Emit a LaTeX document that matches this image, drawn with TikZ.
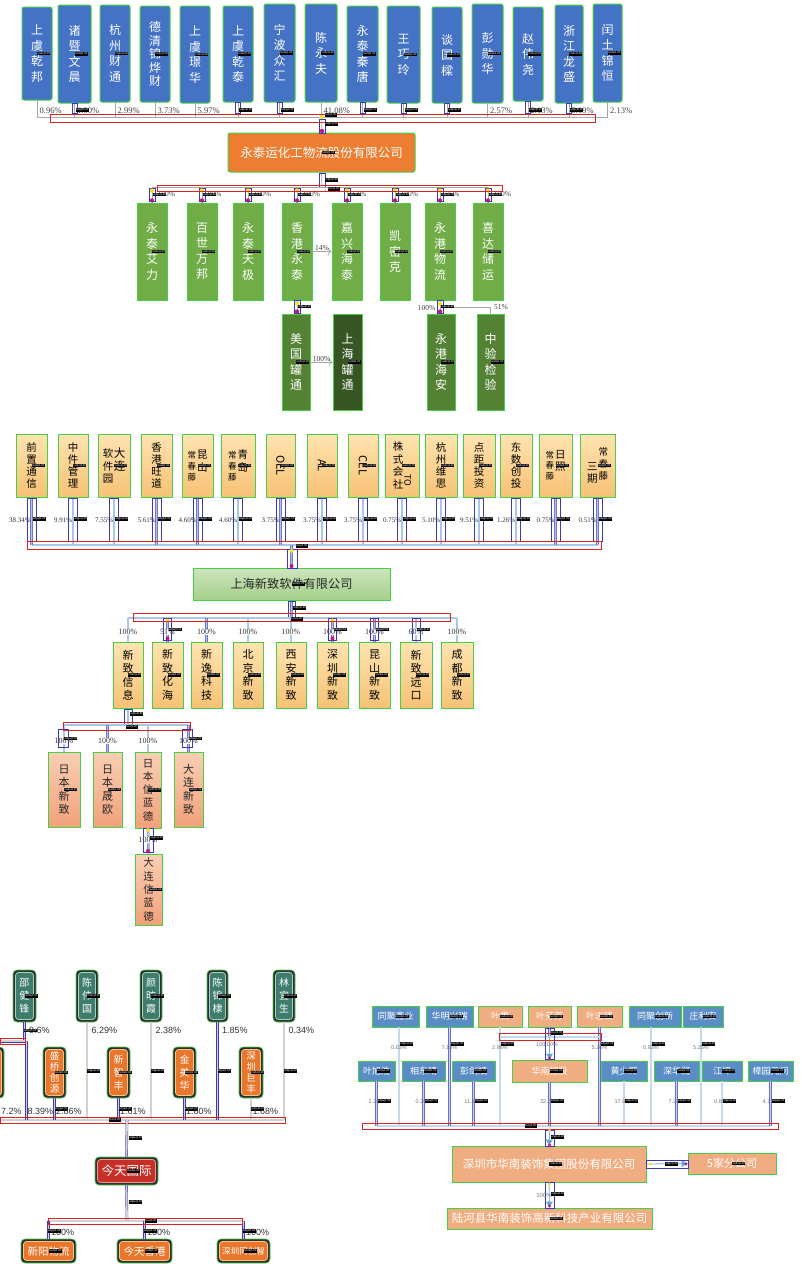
\documentclass[tikz,border=0pt]{standalone}
\usepackage{fontspec}
\usepackage{graphicx}
\setmainfont{Liberation Serif}
\newfontfamily\cjk{Noto Sans CJK SC}
\newfontfamily\arial{Liberation Sans}
\usetikzlibrary{arrows.meta,calc}
\definecolor{blueA}{HTML}{4472C4}
\definecolor{annG}{HTML}{45D045}
\definecolor{annR}{HTML}{E02020}
\definecolor{annB}{HTML}{3A3AB8}
\definecolor{orgA}{HTML}{ED7D31}
\definecolor{grnA}{HTML}{70AD47}
\definecolor{grnB}{HTML}{548235}
\definecolor{grnC}{HTML}{375623}
\definecolor{yelT}{HTML}{FFE3B0}
\definecolor{yelB}{HTML}{F6C275}
\definecolor{salT}{HTML}{F9CFB4}
\definecolor{salB}{HTML}{F2A17A}
\definecolor{lgT}{HTML}{CDE5BE}
\definecolor{lgB}{HTML}{A5CF88}
\definecolor{darkO}{HTML}{2E2E2E}
\definecolor{tealI}{HTML}{3E7D6C}
\definecolor{tealL}{HTML}{A8D0C3}
\definecolor{orgI}{HTML}{E8772C}
\definecolor{orgL}{HTML}{F7C48F}
\definecolor{redI}{HTML}{C62F28}
\definecolor{redL}{HTML}{EC9A90}
\definecolor{blueD}{HTML}{5A8DC6}
\definecolor{salD}{HTML}{F0AD82}
\definecolor{lblue}{HTML}{A8C8E8}
\definecolor{arrB}{HTML}{5B9BD5}
\definecolor{magD}{HTML}{C0188C}
\definecolor{yelD}{HTML}{F5E020}

\newcommand\BX[7]{%
  \node[#1,minimum width={(#5-(#3))*1pt},minimum height={(#6-(#4))*1pt}] (#2) at ({((#3)+(#5))/2},{((#4)+(#6))/2}) {#7};
  \node[ntag] (#2t) at (#2.center) {node|1.00};}
\newcommand\PBB[7]{%
  \node[darkouter,minimum width={(#4-(#2))*1pt},minimum height={(#5-(#3))*1pt}] (#1) at ({((#2)+(#4))/2},{((#3)+(#5))/2}) {};
  \node[#6,minimum width={(#4-(#2)-5)*1pt},minimum height={(#5-(#3)-5)*1pt}] (#1i) at (#1.center) {#7};}
\newcommand\PB[7]{%
  \PBB{#1}{#2}{#3}{#4}{#5}{#6}{#7}%
  \node[ntag] (#1t) at (#1.center) {node|1.00};}

\begin{document}
\begin{tikzpicture}[x=1pt,y=-1pt,
  base/.style={rectangle,inner sep=0pt,align=center,draw=annG,line width=1pt},
  box1/.style={base,rounded corners=2pt,fill=blueA,text=white,font=\cjk\fontsize{12}{15.5}\selectfont},
  orgbox/.style={base,rounded corners=2pt,fill=orgA,text=white,font=\cjk\fontsize{12.5}{14}\selectfont},
  gbox/.style={base,fill=grnA,text=white,font=\cjk\fontsize{12}{15.5}\selectfont},
  gboxB/.style={gbox,fill=grnB},
  gboxC/.style={gbox,fill=grnC},
  ybox/.style={base,top color=yelT,bottom color=yelB,text=black,font=\cjk\fontsize{10.5}{11.8}\selectfont},
  lgbox/.style={base,top color=lgT,bottom color=lgB,text=black!85,font=\cjk\fontsize{12.2}{13}\selectfont},
  sbox/.style={base,top color=salT,bottom color=salB,text=black!85,font=\cjk\fontsize{11}{13.5}\selectfont},
  darkouter/.style={rectangle,fill=darkO,rounded corners=4pt,draw=annG,line width=0.6pt,inner sep=0pt},
  tealin/.style={rectangle,fill=tealI,draw=tealL,line width=0.8pt,rounded corners=3pt,inner sep=0pt,align=center,text=white,font=\cjk\fontsize{10}{13}\selectfont},
  orgin/.style={tealin,fill=orgI,draw=orgL,font=\cjk\fontsize{9.5}{11}\selectfont},
  redin/.style={tealin,fill=redI,draw=redL,font=\cjk\fontsize{12.5}{13}\selectfont},
  bbox/.style={base,line width=0.8pt,fill=blueD,text=white,font=\cjk\fontsize{9}{10}\selectfont},
  sdbox/.style={bbox,fill=salD},
  ntag/.style={fill=black,text=white,font=\arial\fontsize{2.8}{3}\selectfont,inner sep=0.4pt,anchor=west},
  etag/.style={fill=black,text=white,font=\arial\fontsize{2.8}{3}\selectfont,inner sep=0.4pt,anchor=west},
  gline/.style={draw=black!35,line width=0.7pt},
  garrow/.style={gline,-{To[length=4pt]}},
  lbconn/.style={draw=annB!70,line width=0.4pt,double=lblue,double distance=1.6pt},
  dconn/.style={draw=annB,line width=0.4pt,double=black!18,double distance=1.8pt},
  sconn/.style={draw=annB!75,line width=0.4pt,double=lblue!70!white,double distance=1.6pt},
  sarrow/.style={draw=arrB!80,line width=0.8pt,-{Triangle[length=6pt,width=7pt,fill=arrB]}},
  redbox/.style={draw=annR,line width=0.9pt},
  aframe/.style={draw=annB,line width=0.6pt},
  pc1/.style={font=\fontsize{8.5}{9}\selectfont,text=black!75,inner sep=0.5pt},
  pc2/.style={font=\fontsize{7}{8}\selectfont,text=black!80,inner sep=0.5pt},
  pc2w/.style={pc2,fill=white},
  pc3/.style={font=\arial\fontsize{9}{10}\selectfont,text=black!80,inner sep=0.5pt},
  pc4/.style={font=\arial\fontsize{5.5}{6}\selectfont,text=black!55,inner sep=0.3pt}
]
\useasboundingbox (0,0) rectangle (801,1264);
\fill[white] (0,0) rectangle (801,1264);

%================ Section 1 ================
\BX{box1}{a1}{22}{7}{52}{100}{上\\虞\\乾\\邦}
\BX{box1}{a2}{58}{5}{91}{103}{诸\\暨\\文\\晨}
\BX{box1}{a3}{100}{5}{130}{102}{杭\\州\\财\\通}
\BX{box1,font=\cjk\fontsize{12}{13.5}\selectfont}{a4}{140}{6}{170}{102}{德\\清\\锦\\烨\\财}
\BX{box1}{a5}{180}{6}{210}{103}{上\\虞\\璟\\华}
\BX{box1}{a6}{223}{6}{253}{102}{上\\虞\\乾\\泰}
\BX{box1}{a7}{264}{4}{295}{102}{宁\\波\\众\\汇}
\BX{box1}{a8}{305}{4}{337}{102}{陈\\永\\夫}
\BX{box1}{a9}{347}{6}{378}{102}{永\\泰\\秦\\唐}
\BX{box1}{a10}{387}{6}{420}{103}{王\\巧\\玲}
\BX{box1}{a11}{432}{7}{462}{103}{谈\\国\\樑}
\BX{box1}{a12}{472}{4}{503}{103}{彭\\勋\\华}
\BX{box1}{a13}{513}{7}{543}{101}{赵\\伟\\尧}
\BX{box1}{a14}{555}{5}{583}{103}{浙\\江\\龙\\盛}
\BX{box1}{a15}{593}{4}{622}{102}{闰\\土\\锦\\恒}

\coordinate (b1) at (322,117);
\coordinate (p1y) at (0,111);
\foreach \n in {a1,a2,a3,a4,a5,a6,a7,a8,a9,a10,a11,a12,a13,a14,a15}
  \draw[gline] (\n.south) -- (\n.south |- b1);
\draw[gline] (a1.south |- b1) -- (a15.south |- b1);
\foreach \n/\t in {a1/0.96\%,a2/1.00\%,a3/2.99\%,a4/3.73\%,a5/5.97\%,a8/41.08\%,a12/2.57\%,a13/2.13\%,a14/3.19\%,a15/2.13\%}
  \node[pc1,anchor=west] (\n p) at ($(\n.south |- p1y)+(2,0)$) {\t};
\foreach \n/\t in {a2/0.20,a6/0.30,a7/0.33,a9/0.17,a10/0.08,a11/0.11,a13/0.12,a14/0.02}{
  \draw[aframe] ($(\n.south)+(-2.5,0)$) rectangle ($(\n.south |- b1)+(2.5,-4)$);
  \node[etag] (\n e) at ($(\n.south |- p1y)+(1,-1)$) {edge|\t};}
\draw[redbox] (50,114) rectangle (595,122);

\BX{orgbox}{yt}{228}{133}{415}{172}{永泰运化工物流股份有限公司}
\draw[gline] (b1) -- (yt.north);
\draw[aframe] (319,119) rectangle (325,133);
\fill[yelD] (b1) circle (2.2);
\fill[magD] (322,131) circle (2.2);
\node[etag] (b1t) at (325,115) {bus|1.00};
\node[etag] (b1e) at (325,124) {edge|1.00};

\BX{gbox}{c1}{137}{203}{167}{300}{永\\泰\\艾\\力}
\BX{gbox}{c2}{187}{203}{217}{300}{百\\世\\万\\邦}
\BX{gbox}{c3}{233}{203}{263}{300}{永\\泰\\天\\极}
\BX{gbox}{c4}{282}{203}{312}{300}{香\\港\\永\\泰}
\BX{gbox}{c5}{332}{203}{362}{300}{嘉\\兴\\海\\泰}
\BX{gbox}{c6}{380}{203}{410}{300}{凯\\密\\克}
\BX{gbox}{c7}{425}{203}{455}{300}{永\\港\\物\\流}
\BX{gbox}{c8}{473}{203}{503}{300}{喜\\达\\储\\运}
\coordinate (b2) at (322,187);
\draw[gline] (yt.south) -- (b2);
\draw[aframe] (319,173) rectangle (325,187);
\node[etag] (b2e) at (325,180) {edge|0.90};
\draw[gline] (c1.north |- b2) -- (c8.north |- b2);
\foreach \n/\t/\v in {c1/100\%/1.00,c2/80\%/0.80,c3/100\%/1.00,c4/100\%/1.00,c5/51\%/0.29,c6/100\%/1.00,c7/75\%/0.75,c8/100\%/1.00}{
  \draw[gline] (\n.north |- b2) -- (\n.north);
  \node[pc1,anchor=west,font=\fontsize{7.5}{8}\selectfont] (\n p) at ($(\n.north)+(5,-8)$) {\t};
  \draw[aframe] ($(\n.north)+(-3,-14)$) rectangle ($(\n.north)+(3,-1)$);
  \fill[yelD] ($(\n.north)+(0,-12)$) circle (2.2);
  \fill[magD] ($(\n.north)+(0,-2)$) circle (2.2);
  \node[etag] (\n e) at ($(\n.north)+(1,-8)$) {edge|\v};}
\draw[redbox] (157,185) rectangle (502,191);
\node[etag] (b2t) at (328,189) {bus|1.00};

\BX{gboxB}{d1}{282}{314}{310}{410}{美\\国\\罐\\通}
\BX{gboxC}{d2}{333}{314}{362}{410}{上\\海\\罐\\通}
\BX{gboxB}{d3}{427}{314}{455}{410}{永\\港\\海\\安}
\BX{gboxB}{d4}{477}{314}{504}{410}{中\\验\\检\\验}
\draw[garrow] (c4.east) -- (c5.west) node[midway,above,pc1,font=\fontsize{7.5}{8}\selectfont] (c45) {14\%};
\draw[garrow] (d1.east) -- (d2.west) node[midway,above,pc1,font=\fontsize{7.5}{8}\selectfont] (d12) {100\%};
\draw[gline] (c4.south) -- (c4.south |- d1.north);
\draw[aframe] ($(c4.south)+(-3,0)$) rectangle ($(c4.south |- d1.north)+(3,0)$);
\fill[yelD] ($(c4.south)+(0,3)$) circle (2.2);
\fill[magD] ($(c4.south |- d1.north)+(0,-2)$) circle (2.2);
\node[etag] (c4e) at ($(c4.south)+(1,6)$) {edge|0.30};
\draw[gline] (c7.south) -- (c7.south |- d3.north);
\draw[gline] ($(c7.south)+(0,7)$) -| (d4.north);
\node[pc1,anchor=east,font=\fontsize{7.5}{8}\selectfont] (d3p) at ($(c7.south)+(-4,8)$) {100\%};
\node[pc1,anchor=west,font=\fontsize{7.5}{8}\selectfont] (d4p) at ($(d4.north)+(3,-6)$) {51\%};
\draw[aframe] ($(c7.south)+(-3,0)$) rectangle ($(c7.south |- d3.north)+(3,0)$);
\fill[yelD] ($(c7.south)+(0,3)$) circle (2.2);
\fill[magD] ($(c7.south |- d3.north)+(0,-2)$) circle (2.2);
\node[etag] (c7e) at ($(c7.south)+(1,6)$) {edge|0.88};

%================ Section 2 ================
\BX{ybox}{p1}{16}{434}{47}{497}{前\\置\\通\\信}
\BX{ybox}{p2}{58}{434}{88}{497}{中\\件\\管\\理}
\BX{ybox}{p3}{98}{434}{130}{497}{\raisebox{-4pt}{\shortstack{软\\件\\园}}\hspace{0.5pt}\raisebox{8pt}{\fontsize{11.5}{12}\selectfont\shortstack{大\\连}}}
\BX{ybox}{p4}{141}{434}{172}{497}{香\\港\\旺\\道}
\BX{ybox}{p5}{182}{434}{213}{497}{{\fontsize{8.5}{9}\selectfont\shortstack{常\\春\\藤}}\hspace{1pt}\raisebox{9pt}{\shortstack{昆\\山}}}
\BX{ybox}{p6}{221}{434}{255}{497}{{\fontsize{8.5}{9}\selectfont\shortstack{常\\春\\藤}}\hspace{1pt}\raisebox{9pt}{\shortstack{青\\岛}}}
\BX{ybox}{p7}{266}{434}{295}{497}{\fontsize{11}{11}\selectfont\rotatebox{-90}{OEL}}
\BX{ybox}{p8}{307}{434}{337}{497}{\fontsize{11}{11}\selectfont\rotatebox{-90}{AL}}
\BX{ybox}{p9}{348}{434}{378}{497}{\fontsize{11}{11}\selectfont\rotatebox{-90}{CEL}}
\BX{ybox}{p10}{385}{434}{419}{497}{\shortstack{株\\式\\会\\社}\hspace{1pt}\raisebox{14pt}{\fontsize{9}{9}\selectfont\rotatebox{-90}{TO}}}
\BX{ybox}{p11}{425}{434}{457}{497}{杭\\州\\维\\思}
\BX{ybox}{p12}{463}{434}{495}{497}{点\\距\\投\\资}
\BX{ybox}{p13}{500}{434}{532}{497}{东\\数\\创\\投}
\BX{ybox}{p14}{539}{434}{572}{497}{{\fontsize{8.5}{9}\selectfont\shortstack{常\\春\\藤}}\hspace{1pt}\raisebox{9pt}{\shortstack{日\\照}}}
\BX{ybox}{p15}{580}{434}{615}{497}{\raisebox{-3pt}{\shortstack{三\\期}}\hspace{1pt}{\fontsize{9.5}{10}\selectfont\shortstack{常\\春\\藤}}}

\coordinate (b5) at (291.5,545);
\coordinate (p5y) at (0,520);
\draw[lbconn] (p1.south |- b5) -- (p15.south |- b5);
\foreach \n/\t in {p1/38.34\%,p2/9.91\%,p3/7.55\%,p4/5.61\%,p5/4.60\%,p6/4.60\%,p7/3.75\%,p8/3.75\%,p9/3.75\%,p10/0.75\%,p11/5.10\%,p12/9.51\%,p13/1.26\%,p14/0.75\%,p15/0.51\%}{
  \draw[lbconn] (\n.south) -- (\n.south |- b5);
  \draw[aframe] ($(\n.south)+(-4.5,1)$) rectangle ($(\n.south |- b5)+(4.5,-4)$);
  \node[pc2,anchor=east] (\n p) at ($(\n.south |- p5y)+(0,0)$) {\t};
  \node[etag] (\n e) at ($(\n.south |- p5y)+(1,-1)$) {edge|1.00};}
\draw[redbox] (27,541) rectangle (601,549);
\node[etag] (b5t) at (296,546) {bus|1.00};

\BX{lgbox}{q}{193}{568}{390}{600}{上海新致软件有限公司}
\draw[lbconn] (b5) -- (q.north);
\draw[aframe] (287,549) rectangle (297,568);
\fill[yelD] (291.5,551) circle (2);
\fill[magD] (291.5,566) circle (2);

\BX{ybox,font=\cjk\fontsize{11}{13.5}\selectfont}{r1}{113}{642}{143}{708}{新\\致\\信\\息}
\BX{ybox,font=\cjk\fontsize{11}{13.5}\selectfont}{r2}{152}{642}{183}{708}{新\\致\\化\\海}
\BX{ybox,font=\cjk\fontsize{11}{13.5}\selectfont}{r3}{191}{642}{222}{708}{新\\逸\\科\\技}
\BX{ybox,font=\cjk\fontsize{11}{13.5}\selectfont}{r4}{233}{642}{263}{708}{北\\京\\新\\致}
\BX{ybox,font=\cjk\fontsize{11}{13.5}\selectfont}{r5}{276}{642}{306}{708}{西\\安\\新\\致}
\BX{ybox,font=\cjk\fontsize{11}{13.5}\selectfont}{r6}{317}{642}{348}{708}{深\\圳\\新\\致}
\BX{ybox,font=\cjk\fontsize{11}{13.5}\selectfont}{r7}{359}{642}{390}{708}{昆\\山\\新\\致}
\BX{ybox,font=\cjk\fontsize{11}{13.5}\selectfont}{r8}{400}{642}{432}{708}{新\\致\\远\\口}
\BX{ybox,font=\cjk\fontsize{11}{13.5}\selectfont}{r9}{441}{642}{473}{708}{成\\都\\新\\致}
\coordinate (b6) at (291.5,618);
\coordinate (p6y) at (0,632);
\draw[lbconn] (q.south) -- (b6);
\draw[aframe] (288,601) rectangle (295,618);
\node[etag] (b6e) at (293,608) {edge|0.90};
\draw[lbconn] (r1.north |- b6) -- (r9.north |- b6);
\foreach \n/\t in {r1/100\%,r2/51\%,r3/100\%,r4/100\%,r5/100\%,r6/100\%,r7/100\%,r8/60\%,r9/100\%}{
  \draw[lbconn] (\n.north |- b6) -- (\n.north);
  \node[pc2w,font=\fontsize{8}{9}\selectfont] (\n p) at (\n.north |- p6y) {\t};}
\foreach \n in {r2,r6,r7,r8}{
  \draw[aframe] ($(\n.north)+(-4,-23)$) rectangle ($(\n.north)+(4,-1)$);
  \node[etag] (\n e) at ($(\n.north)+(1,-12)$) {edge|0.51};}
\fill[yelD] ($(r2.north)+(0,-21)$) circle (2);
\fill[magD] ($(r2.north)+(0,-3)$) circle (2);
\fill[yelD] ($(r6.north)+(0,-21)$) circle (2);
\fill[magD] ($(r6.north)+(0,-3)$) circle (2);
\draw[redbox] (133,613) rectangle (450,621);
\node[etag] (b6t) at (291,619) {bus|1.00};

\BX{sbox}{s1}{48}{752}{80}{827}{日\\本\\新\\致}
\BX{sbox}{s2}{93}{752}{122}{827}{日\\本\\晟\\欧}
\BX{sbox,font=\cjk\fontsize{10.5}{13.3}\selectfont}{s3}{135}{752}{161}{828}{日\\本\\信\\蓝\\德}
\BX{sbox}{s4}{174}{752}{203}{827}{大\\连\\新\\致}
\BX{sbox,font=\cjk\fontsize{10.5}{13.3}\selectfont}{s5}{135}{854}{162}{925}{大\\连\\信\\蓝\\德}
\coordinate (b7) at (128,725);
\coordinate (p7y) at (0,741);
\draw[lbconn] (r1.south) -- (b7);
\draw[aframe] (124,709) rectangle (132,725);
\node[etag] (b7e) at (130,714) {edge|0.88};
\draw[lbconn] (s1.north |- b7) -- (s4.north |- b7);
\foreach \n in {s1,s2,s3,s4}{
  \draw[lbconn] (\n.north |- b7) -- (\n.north);
  \node[pc2w,font=\fontsize{8}{9}\selectfont] (\n p) at (\n.north |- p7y) {100\%};}
\foreach \n in {s1,s4}{
  \draw[aframe] ($(\n.north)+(-6,-22)$) rectangle ($(\n.north)+(4,-4)$);
  \node[etag] (\n e) at ($(\n.north)+(0,-13)$) {edge|1.00};}
\draw[redbox] (63,722) rectangle (190,730);
\node[etag] (b7t) at (126,727) {bus|1.00};
\draw[lbconn] (s3.south) -- (s5.north);
\node[pc2w,font=\fontsize{8}{9}\selectfont] (s5p) at (148,840) {100\%};
\draw[aframe] (143,828) rectangle (153,852);
\fill[yelD] (148,830) circle (2);
\fill[magD] (148,851) circle (2);
\node[etag] (s5e) at (150,838) {edge|1.00};

%================ Section 3 ================
\PB{t1}{13}{970}{36}{1022}{tealin}{邵\\健\\锋}
\PB{t2}{76}{970}{98}{1022}{tealin}{陈\\伟\\国}
\PB{t3}{140}{970}{162}{1022}{tealin}{颜\\昉\\霞}
\PB{t4}{207}{970}{228}{1022}{tealin}{陈\\锦\\棣}
\PB{t5}{273}{970}{295}{1022}{tealin}{林\\宜\\生}
\PBB{u0}{-25}{1047}{4}{1098}{orgin}{}
\PB{u1}{43}{1047}{66}{1098}{orgin,font=\cjk\fontsize{9.5}{11.2}\selectfont}{盛\\桥\\创\\源}
\PB{u2}{107}{1047}{130}{1098}{orgin,font=\cjk\fontsize{10}{13}\selectfont}{新\\智\\丰}
\PB{u3}{173}{1047}{196}{1098}{orgin,font=\cjk\fontsize{10}{13}\selectfont}{金\\美\\华}
\PB{u4}{239}{1047}{263}{1098}{orgin,font=\cjk\fontsize{9.5}{11.2}\selectfont}{深\\圳\\巨\\丰}

\coordinate (b3) at (127,1120);
\coordinate (p3a) at (0,1030);
\coordinate (p3b) at (0,1111);
\draw[dconn] (-12,1120) -- (t5.south |- b3);
\foreach \n in {t2,t3,t4,t5,u1,u2,u3,u4}{
  \draw[dconn] (\n.south) -- (\n.south |- b3);
  \node[etag] (\n e) at ($(\n.south)!0.5!(\n.south |- b3)$) {edge|1.00};}
\draw[dconn] (t1.south) -- ++(0,19) coordinate (t1k) -- ($(t1k)+(-40,0)$);
\draw[dconn] ($(t1k)+(2,0)$) -- ($(t1k |- b3)+(2,0)$);
\draw[redbox] (0,1038) rectangle (25,1044);
\node[etag] (t1e) at ($(t1.south)+(-1,8)$) {edge|1.00};
\foreach \n/\t in {t1/9.6\%,t2/6.29\%,t3/2.38\%,t4/1.85\%,t5/0.34\%}
  \node[pc3,anchor=west] (\n p) at ($(\n.south |- p3a)+(4,0)$) {\t};
\foreach \n/\t in {u1/2.86\%,u2/1.61\%,u3/1.80\%,u4/1.68\%}
  \node[pc3,anchor=west] (\n p) at ($(\n.south |- p3b)+(1,0)$) {\t};
\node[pc3,anchor=west] (t1q) at (27,1111) {8.39\%};
\node[pc3,anchor=west] (u0p) at (0.5,1111) {7.2\%};
\draw[redbox] (0,1117) rectangle (285,1123);
\node[etag] (b3t) at (109,1120) {bus|1.00};

\PB{v}{95}{1157}{158}{1185}{redin}{今天国际}
\draw[dconn] (b3) -- (v.north);
\coordinate (b4) at (127,1221);
\draw[dconn] (v.south) -- (b4);
\node[etag] (v1e) at (129,1138) {edge|1.00};
\node[etag] (v2e) at (129,1202) {edge|1.00};
\PB{w1}{21}{1239}{76}{1263}{orgin,font=\cjk\fontsize{10.5}{11}\selectfont}{新阳物流}
\PB{w2}{117}{1239}{172}{1263}{orgin,font=\cjk\fontsize{10.5}{11}\selectfont}{今天香港}
\PB{w3}{217}{1239}{270}{1263}{orgin,font=\cjk\fontsize{8.5}{9}\selectfont}{深圳同创智}
\draw[dconn] (w1.north |- b4) -- (w3.north |- b4);
\foreach \n in {w1,w2,w3}{
  \draw[dconn] (\n.north |- b4) -- (\n.north);
  \node[pc3,anchor=west] (\n p) at ($(\n.north |- b4)+(2,11)$) {100\%};
  \node[etag] (\n e) at ($(\n.north |- b4)+(-1,10)$) {edge|1.00};}
\draw[redbox] (48,1218) rectangle (242,1224);
\node[etag] (b4t) at (145,1221) {bus|1.00};

%================ Section 4 ================
\BX{bbox}{x1}{372}{1006}{419}{1027}{同聚鑫业}
\BX{bbox}{x2}{426}{1006}{473}{1027}{华明兴瑞}
\BX{sdbox}{x3}{478}{1006}{522}{1027}{叶霖}
\BX{sdbox}{x4}{528}{1006}{571}{1027}{叶芬芳}
\BX{sdbox}{x5}{577}{1006}{622}{1027}{叶志锋}
\BX{bbox}{x6}{629}{1006}{681}{1027}{同聚创新}
\BX{bbox}{x7}{683}{1006}{723}{1027}{庄利安}
\BX{bbox}{y1}{358}{1061}{395}{1081}{叶旭浩}
\BX{bbox}{y2}{402}{1061}{445}{1081}{相东晴}
\BX{bbox}{y3}{452}{1061}{495}{1081}{彭剑斌}
\BX{sdbox}{y4}{512}{1060}{587}{1082}{华南控股}
\BX{bbox}{y5}{601}{1061}{647}{1081}{黄少辉}
\BX{bbox}{y6}{654}{1061}{699}{1081}{深华润}
\BX{bbox}{y7}{702}{1061}{742}{1081}{江坪}
\BX{bbox}{y8}{748}{1061}{793}{1081}{樟园元问}

\coordinate (b8) at (550,1126);
\coordinate (p8a) at (0,1048);
\coordinate (p8b) at (0,1102);
\draw[sconn] (y1.south |- b8) -- (y8.south |- b8);
\foreach \n/\dx/\t in {x1/3.5/0.63\%,x2/0/7.18\%,x3/0/2.96\%,x5/0/5.26\%,x6/-4/0.93\%,x7/-2/5.25\%}{
  \draw[sconn] ($(\n.south)+(\dx,0)$) -- ($(\n.south |- b8)+(\dx,0)$);
  \node[pc4] (\n p) at ($(\n.south |- p8a)+(\dx,0)$) {\t};
  \node[etag] (\n e) at ($(\n.south |- p8a)+(\dx+1,-4)$) {edge|1.00};}
\foreach \n/\t in {y1/2.26\%,y2/0.26\%,y3/11.16\%,y4/32.85\%,y5/17.08\%,y6/7.28\%,y7/0.85\%,y8/4.71\%}{
  \draw[sconn] (\n.south) -- (\n.south |- b8);
  \node[pc4] (\n p) at (\n.south |- p8b) {\t};
  \node[etag] (\n e) at ($(\n.south |- p8b)+(1,-1)$) {edge|1.00};}
\draw[redbox] (362,1123) rectangle (778,1129);
\node[etag] (b8t) at (525,1126) {bus|1.00};

\coordinate (b9) at (549.5,1037);
\draw[sconn] (x4.south) -- (b9);
\draw[sconn] (x3.south |- b9) -- (x5.south |- b9);
\draw[sarrow] (b9) -- (y4.north);
\node[pc4] (y4q) at (547,1045) {100.00\%};
\draw[aframe] (545,1028) rectangle (554,1059);
\fill[yelD] (549.5,1041) circle (1.6);
\fill[magD] (549.5,1058) circle (1.6);
\draw[redbox] (499,1033) rectangle (601,1040);
\node[etag] (b9t) at (551,1033) {bus|1.00};

\BX{sdbox,font=\cjk\fontsize{11.5}{12}\selectfont}{z1}{452}{1146}{646}{1182}{深圳市华南装饰集团股份有限公司}
\BX{sdbox,font=\cjk\fontsize{11}{12}\selectfont}{z2}{688}{1153}{776}{1174}{5家分公司}
\BX{sdbox,font=\cjk\fontsize{11.5}{12}\selectfont}{z3}{447}{1208}{652}{1229}{陆河县华南装饰高新科技产业有限公司}
\draw[sarrow] (b8) -- (z1.north);
\draw[aframe] (545,1130) rectangle (554,1146);
\fill[yelD] (549.5,1130) circle (1.6);
\fill[magD] (549.5,1145) circle (1.6);
\node[etag] (z1e) at (551,1137) {edge|1.00};
\draw[sarrow] (z1.east) -- (z2.west);
\draw[aframe] (646,1160) rectangle (688,1168);
\node[etag] (z2e) at (665,1164) {edge|1.00};
\fill[yelD] (650,1164) circle (1.6);
\fill[magD] (686,1164) circle (1.6);
\draw[sarrow] (z1.south) -- (z3.north);
\node[pc4,font=\arial\fontsize{6}{6}\selectfont] (z3p) at (544,1195) {100\%};
\draw[aframe] (545,1182) rectangle (554,1208);
\fill[yelD] (549.5,1184) circle (1.6);
\fill[magD] (549.5,1206) circle (1.6);
\node[etag] (z3e) at (551,1194) {edge|1.00};
\end{tikzpicture}
\end{document}
